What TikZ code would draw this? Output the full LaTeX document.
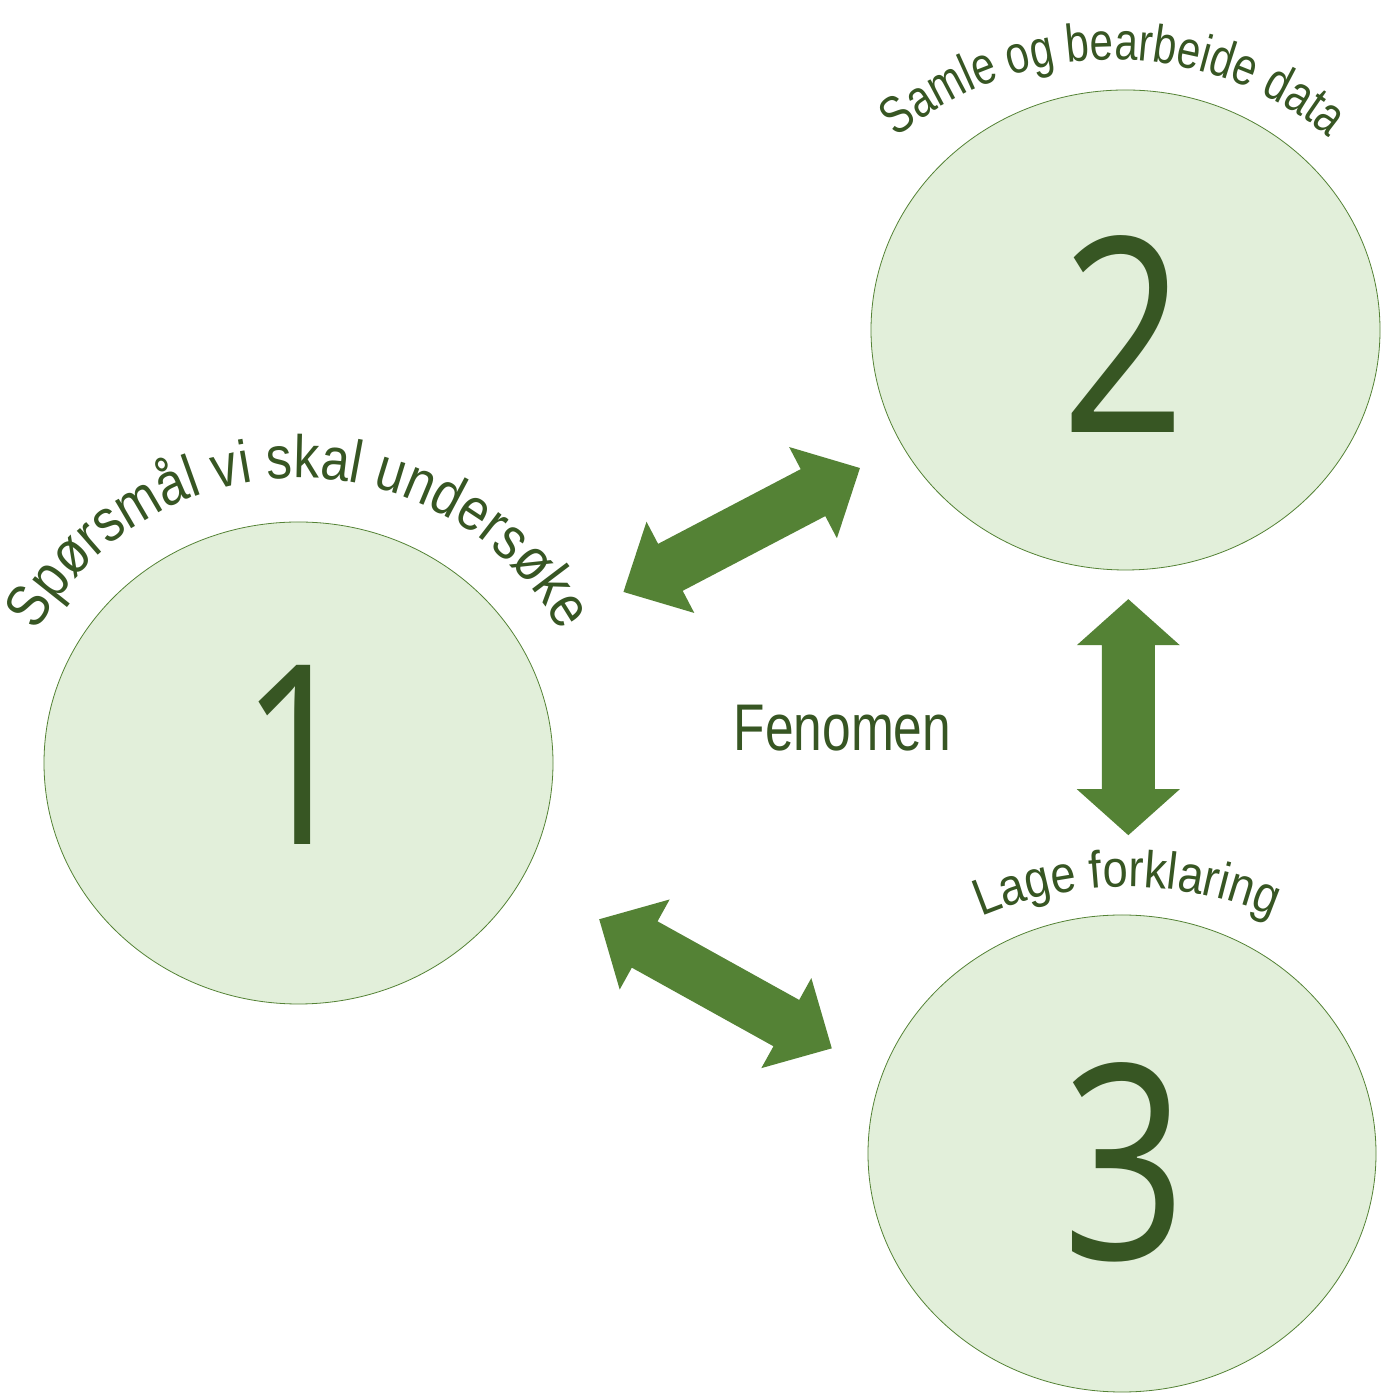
\documentclass[tikz,border=0pt]{standalone}
\usepackage{fontspec}
\setmainfont{Liberation Sans}
\newfontfamily\arcfontA[FakeStretch=0.86]{Liberation Sans}
\newfontfamily\arcfontB[FakeStretch=0.79]{Liberation Sans}
\newfontfamily\arcfontC[FakeStretch=0.87]{Liberation Sans}
\newfontfamily\fenfont[FakeStretch=0.78]{Liberation Sans}
\newfontfamily\digitfont[FakeStretch=0.8]{Open Sans}
\usetikzlibrary{shapes.geometric,decorations.text}

\definecolor{circfill}{HTML}{E2EFDA}
\definecolor{circline}{HTML}{548235}
\definecolor{arrowfill}{HTML}{548235}
\definecolor{txtgreen}{HTML}{375623}

\tikzset{
  stage/.style={ellipse, draw=circline, line width=0.8pt, fill=circfill, inner sep=0pt},
  digit/.style={inner sep=0pt, text=txtgreen},
  arctext/.style={decorate, decoration={text along path, text align=center, text={#1}}},
  % double-headed block arrow: total length / head length
  pics/dblarrow/.style args={#1/#2}{code={
    \fill[arrowfill] (-#1/2,0) -- (-#1/2+#2,51.5) -- (-#1/2+#2,26.5)
      -- (#1/2-#2,26.5) -- (#1/2-#2,51.5) -- (#1/2,0) -- (#1/2-#2,-51.5)
      -- (#1/2-#2,-26.5) -- (-#1/2+#2,-26.5) -- (-#1/2+#2,-51.5) -- cycle;
  }}
}

\begin{document}
\begin{tikzpicture}[x=1pt,y=1pt]
\useasboundingbox (0,0) rectangle (1383,1394);
\fill[white] (0,0) rectangle (1383,1394);

% the three stages
\node[stage, minimum width=509pt, minimum height=482pt] (c1) at (298.5,631) {};
\node[stage, minimum width=509pt, minimum height=480pt] (c2) at (1125.5,1064) {};
\node[stage, minimum width=508pt, minimum height=477pt] (c3) at (1122,240.5) {};

\node[digit, font=\digitfont\fontsize{251}{251}\selectfont] (n1) at (298,639.5) {1};
\node[digit, font=\digitfont\fontsize{272}{272}\selectfont] (n2) at (1123.4,1059.5) {2};
\node[digit, font=\digitfont\fontsize{272}{272}\selectfont] (n3) at (1125,231.3) {3};

% curved titles
\coordinate (t1) at (299,616);
\coordinate (t2) at (1113,994);
\coordinate (t3) at (1127,132);
\path[arctext={|\arcfontA\fontsize{60}{62}\selectfont\color{txtgreen}|Spørsmål vi skal undersøke}]
  (t1) ++(152:300) arc[start angle=152, end angle=28, radius=300];
\path[arctext={|\arcfontB\fontsize{53}{56}\selectfont\color{txtgreen}|Samle og bearbeide data}]
  (t2) ++(132:340) arc[start angle=132, end angle=48, radius=340];
\path[arctext={|\arcfontC\fontsize{52}{56}\selectfont\color{txtgreen}|Lage forklaring}]
  (t3) ++(113:375) arc[start angle=113, end angle=67, radius=375];

% centre label
\node[inner sep=0pt, text=txtgreen, font=\fenfont\fontsize{66}{70}\selectfont] (fen) at (842.5,665.7) {Fenomen};

% arrows between the stages
\pic[rotate=27.65] (a12) at (741.7,864) {dblarrow=267/53};
\pic[rotate=90] (a23) at (1128.3,676.8) {dblarrow=236/46};
\pic[rotate=-29.03] (a13) at (715.5,410.2) {dblarrow=266/52};
\end{tikzpicture}
\end{document}
